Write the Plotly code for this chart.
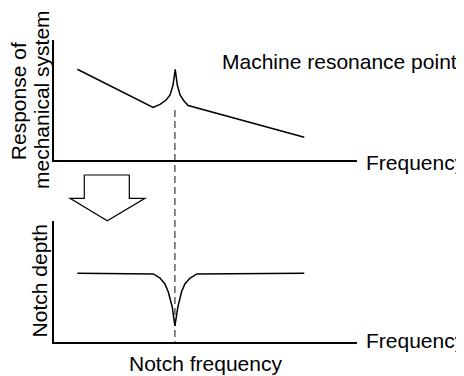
import plotly.graph_objects as go

# ---- data (abstract units: frequency 0..10, response 0..10) ----
resp_freq = [0.77, 3.27, 3.50, 3.70, 3.83, 3.93, 4.00, 4.07, 4.16, 4.29, 4.43, 8.26]
resp_val = [7.56, 4.38, 4.63, 5.00, 5.42, 6.25, 7.56, 6.25, 5.42, 4.92, 4.54, 1.89]

notch_freq = [0.77, 3.28, 3.50, 3.66, 3.77, 3.90, 3.99, 4.09, 4.21, 4.32, 4.49, 4.72, 8.26]
notch_val = [5.65, 5.60, 5.26, 4.77, 4.13, 2.89, 1.30, 2.89, 4.13, 4.77, 5.26, 5.60, 5.65]

resonance_freq = 3.99

# page is shown with an 8px body margin, so the figure is 8px smaller on each side
OFF = 8
W, H = 464 - OFF, 376 - OFF
FONT = "Liberation Sans, Arial, sans-serif"

def px(x):
    return (x - OFF) / W

def py(y):
    return 1 - (y - OFF) / H

fig = go.Figure()
fig.add_trace(go.Scatter(x=resp_freq, y=resp_val, mode="lines",
                         line=dict(color="black", width=1.5), xaxis="x", yaxis="y",
                         hoverinfo="skip", showlegend=False))
fig.add_trace(go.Scatter(x=notch_freq, y=notch_val, mode="lines",
                         line=dict(color="black", width=1.5), xaxis="x2", yaxis="y2",
                         hoverinfo="skip", showlegend=False))

xdom = [px(54), px(357)]
axis_common = dict(showline=True, linecolor="black", linewidth=1.5, showgrid=False,
                   zeroline=False, showticklabels=False, ticks="", fixedrange=True)

fig.update_layout(
    width=W, height=H,
    margin=dict(l=0, r=0, t=0, b=0),
    paper_bgcolor="white", plot_bgcolor="white",
    font=dict(family=FONT, size=21, color="black"),
    xaxis=dict(domain=xdom, range=[0, 10], anchor="y", **axis_common),
    yaxis=dict(domain=[py(160), py(40)], range=[0, 10], anchor="x", **axis_common),
    xaxis2=dict(domain=xdom, range=[0, 10], anchor="y2", **axis_common),
    yaxis2=dict(domain=[py(341.7), py(220.7)], range=[0, 10], anchor="x2", **axis_common),
)

# dashed resonance line across both panels
fig.add_shape(type="line", xref="x", yref="paper", x0=resonance_freq, x1=resonance_freq,
              y0=py(110), y1=py(341.7), line=dict(color="#444", width=1.3, dash="7px,4px"),
              layer="below")

# hollow arrow between panels
pts = [(84.3, 175), (129.3, 175), (129.3, 198.3), (145, 198.3), (107.3, 220.7),
       (70, 198.3), (84.3, 198.3)]
path = "M " + " L ".join(f"{px(a):.4f},{py(b):.4f}" for a, b in pts) + " Z"
fig.add_shape(type="path", xref="paper", yref="paper", path=path,
              line=dict(color="black", width=1.2), fillcolor="white")

def ann(text, x, y, xanchor="center", yanchor="middle", angle=0):
    fig.add_annotation(text=text, x=px(x), y=py(y), xref="paper", yref="paper",
                       xanchor=xanchor, yanchor=yanchor, showarrow=False,
                       textangle=angle, font=dict(family=FONT, size=21, color="black"))

ann("Machine resonance point", 339.4, 61.7)
ann("Frequency", 364, 162.5, xanchor="left")
ann("Frequency", 364, 340.8, xanchor="left")
ann("Notch frequency", 205, 363)
ann("Response of", 18.7, 101.5, angle=-90)
ann("mechanical system", 41, 100, angle=-90)
ann("Notch depth", 39.4, 281, angle=-90)

fig.write_html("out.html")
